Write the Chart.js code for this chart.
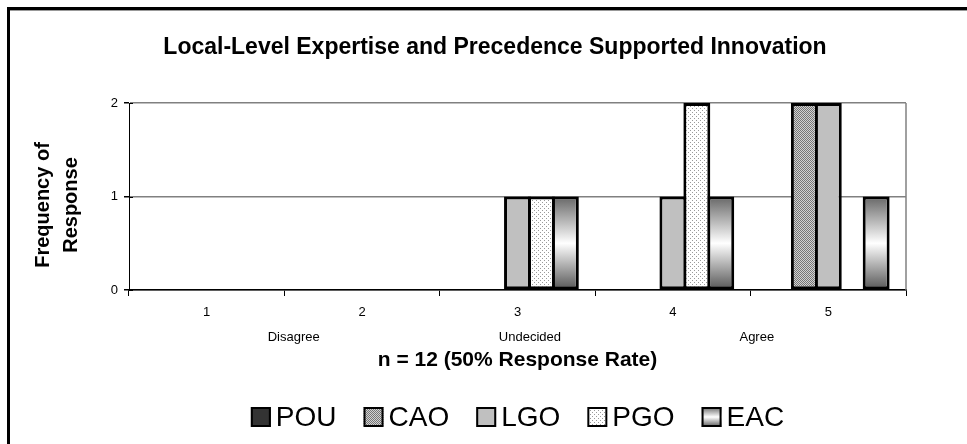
<!DOCTYPE html>
<html>
<head>
<meta charset="utf-8">
<title>Local-Level Expertise and Precedence Supported Innovation</title>
<script src="https://cdn.jsdelivr.net/npm/chart.js@4"></script>
<style>
	html, body { margin: 0; padding: 0; background: #fff; }
	#wrap { width: 967px; height: 444px; position: relative; }
</style>
</head>
<body>
<div id="wrap"><canvas id="chart"></canvas></div>
<script>
// Chart data
const categories = ['1', '2', '3', '4', '5'];
const scaleLabels = ['Disagree', 'Undecided', 'Agree'];
const scaleLabelPos = [0.56, 2.08, 3.54];
const seriesNames = ['POU', 'CAO', 'LGO', 'PGO', 'EAC'];
const pouValues = [0, 0, 0, 0, 0];
const caoValues = [0, 0, 0, 0, 2];
const lgoValues = [0, 0, 1, 1, 2];
const pgoValues = [0, 0, 1, 2, 0];
const eacValues = [0, 0, 1, 1, 1];
const yTicks = [0, 1, 2];

const titleText = 'Local-Level Expertise and Precedence Supported Innovation';
const yTitle = ['Frequency of', 'Response'];
const xTitle = 'n = 12 (50% Response Rate)';

const FONT = '"Liberation Sans", Arial, sans-serif';

// Fill patterns, like the old office chart
function makeChecker() {
	const c = document.createElement('canvas');
	c.width = 2; c.height = 2;
	const g = c.getContext('2d');
	g.fillStyle = '#d2d2d2'; g.fillRect(0, 0, 2, 2);
	g.fillStyle = '#767676'; g.fillRect(0, 0, 1, 1); g.fillRect(1, 1, 1, 1);
	return g.createPattern(c, 'repeat');
}

function makeDots() {
	const c = document.createElement('canvas');
	c.width = 4; c.height = 4;
	const g = c.getContext('2d');
	g.fillStyle = '#ffffff'; g.fillRect(0, 0, 4, 4);
	g.fillStyle = '#9a9a9a'; g.fillRect(0, 0, 1, 1); g.fillRect(2, 2, 1, 1);
	return g.createPattern(c, 'repeat');
}

function shade(g, top, bottom) {
	const grad = g.createLinearGradient(0, top, 0, bottom);
	grad.addColorStop(0, '#666666');
	grad.addColorStop(0.5, '#ffffff');
	grad.addColorStop(1, '#555555');
	return grad;
}

const checker = makeChecker();
const dots = makeDots();

function eacFill(context) {
	const chart = context.chart;
	if (!chart.chartArea || context.type !== 'data' || !context.raw) {
		return '#a0a0a0';
	}
	const y = chart.scales.y;
	return shade(chart.ctx, y.getPixelForValue(context.raw), y.getPixelForValue(0));
}

const fills = ['#333333', checker, '#c0c0c0', dots, null];

// Frame, plot border, titles, sub labels and legend
const decorations = {
	id: 'decorations',
	beforeDraw(chart) {
		const g = chart.ctx;
		g.save();
		g.fillStyle = '#ffffff';
		g.fillRect(0, 0, chart.width, chart.height);
		g.fillStyle = '#000000';
		g.fillRect(7, 7, chart.width - 7, 3);
		g.fillRect(7, 7, 3, chart.height - 7);
		g.fillStyle = '#999999';
		g.fillRect(10, 10, chart.width - 10, 1);
		g.restore();
	},
	beforeDatasetsDraw(chart) {
		const g = chart.ctx;
		const a = chart.chartArea;
		g.save();
		g.strokeStyle = '#808080';
		g.lineWidth = 1.5;
		g.beginPath();
		g.moveTo(a.right, a.top);
		g.lineTo(a.right, a.bottom);
		g.stroke();
		// tick marks crossing into the plot
		g.strokeStyle = '#000000';
		g.lineWidth = 1;
		yTicks.forEach(v => {
			const py = Math.round(chart.scales.y.getPixelForValue(v)) + 0.5;
			g.beginPath();
			g.moveTo(a.left, py);
			g.lineTo(a.left + 4, py);
			g.stroke();
		});
		g.restore();
	},
	afterDraw(chart) {
		const g = chart.ctx;
		const a = chart.chartArea;
		const x = chart.scales.x;
		g.save();
		g.fillStyle = '#000000';
		g.textAlign = 'center';
		g.textBaseline = 'middle';

		g.font = 'bold 23px ' + FONT;
		g.fillText(titleText, 495, 48);

		// y axis title, two rotated lines
		g.save();
		g.font = 'bold 20px ' + FONT;
		g.translate(43, 205);
		g.rotate(-Math.PI / 2);
		g.fillText(yTitle[0], 0, 0);
		g.fillText(yTitle[1], 0, 28);
		g.restore();

		g.font = '13px ' + FONT;
		scaleLabels.forEach((t, i) => {
			g.fillText(t, x.getPixelForValue(scaleLabelPos[i]), 337);
		});

		// legend
		g.font = '28px ' + FONT;
		const box = 20, gap = 5, itemGap = 27;
		const widths = seriesNames.map(n => box + gap + g.measureText(n).width);
		const total = widths.reduce((s, w) => s + w, 0) + itemGap * (seriesNames.length - 1);
		let lx = (a.left + a.right) / 2 - total / 2;
		const ly = 417;
		g.textAlign = 'left';
		seriesNames.forEach((n, i) => {
			g.fillStyle = fills[i] || shade(g, ly - box / 2, ly + box / 2);
			g.fillRect(lx, ly - box / 2, box, box);
			g.strokeStyle = '#000000';
			g.lineWidth = 2;
			g.strokeRect(lx + 1, ly - box / 2 + 1, box - 2, box - 2);
			g.fillStyle = '#000000';
			g.fillText(n, lx + box + gap, ly + 1);
			lx += widths[i] + itemGap;
		});
		g.restore();
	}
};

const values = [pouValues, caoValues, lgoValues, pgoValues, eacValues];

const chart = new Chart(document.getElementById('chart'), {
	type: 'bar',
	data: {
		labels: categories,
		datasets: seriesNames.map((name, i) => ({
			label: name,
			data: values[i],
			backgroundColor: fills[i] || eacFill,
			borderColor: '#000000',
			borderWidth: 3,
			borderSkipped: false,
			categoryPercentage: 0.77,
			barPercentage: 1.125
		}))
	},
	options: {
		responsive: true,
		maintainAspectRatio: false,
		animation: false,
		layout: {
			padding: { top: 103, right: 61, bottom: 71, left: 0 }
		},
		scales: {
			x: {
				afterFit: scale => { scale.height = 83; },
				grid: {
					offset: true,
					drawOnChartArea: false,
					drawTicks: true,
					tickLength: 6,
					tickColor: '#000000'
				},
				border: { color: '#000000', width: 1.5 },
				ticks: {
					color: '#000000',
					padding: 9,
					font: { family: FONT, size: 13 }
				},
				title: {
					display: true,
					text: xTitle,
					color: '#000000',
					padding: { top: 0, bottom: 0 },
					font: { family: FONT, size: 21, weight: 'bold' }
				}
			},
			y: {
				min: 0,
				max: 2,
				afterFit: scale => { scale.width = 129; },
				grid: {
					color: '#808080',
					lineWidth: 1.5,
					tickLength: 5,
					tickColor: '#000000'
				},
				border: { color: '#000000', width: 1 },
				ticks: {
					stepSize: 1,
					color: '#000000',
					padding: 6,
					font: { family: FONT, size: 13 }
				}
			}
		},
		plugins: {
			legend: { display: false },
			title: { display: false },
			tooltip: { enabled: false }
		}
	},
	plugins: [decorations]
});
</script>
</body>
</html>
